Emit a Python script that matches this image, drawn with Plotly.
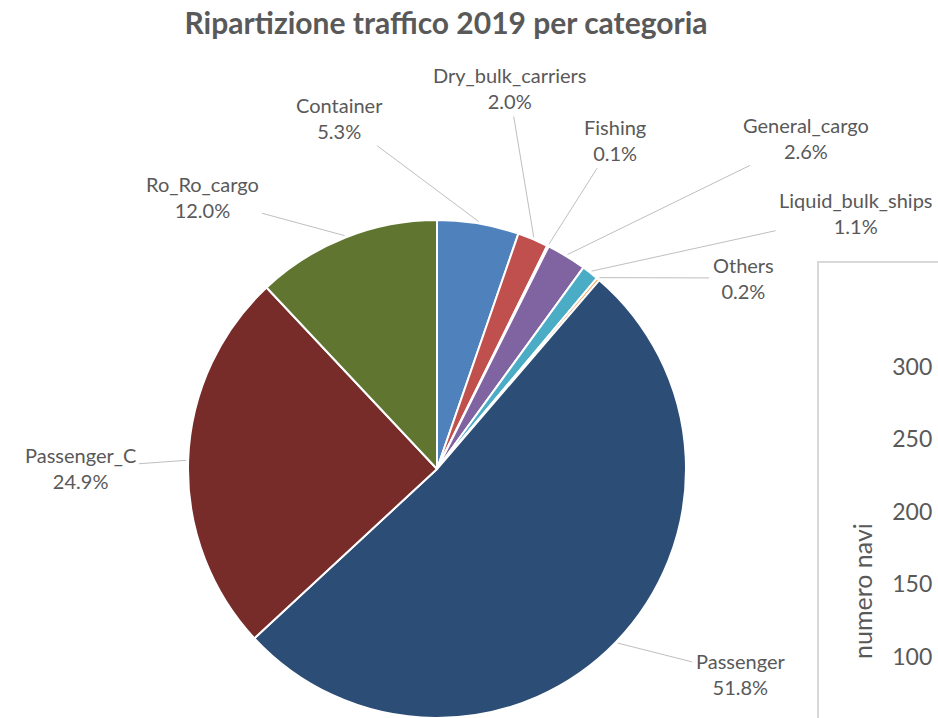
import math
import plotly.graph_objects as go

# ---- data ----
categories = ["Container", "Dry_bulk_carriers", "Fishing", "General_cargo",
              "Liquid_bulk_ships", "Others", "Passenger", "Passenger_C", "Ro_Ro_cargo"]
shares = [5.3, 2.0, 0.1, 2.6, 1.1, 0.2, 51.8, 24.9, 12.0]
colors = ["#4F81BD", "#C0504D", "#9BBB59", "#8064A2", "#4BACC6",
          "#F79646", "#2C4D75", "#772C2A", "#5F7530"]
right_ticks = [100, 150, 200, 250, 300]

# ---- layout helpers ----
W, H = 938, 718
CX, CY, R = 437, 469, 249
# label centre positions (pixels) for each category, layout only
label_pos = [(340, 118), (509, 88), (615, 140), (806, 138), (856, 213),
             (743, 278), (740, 674), (80, 468), (202, 197)]

fig = go.Figure()
fig.add_trace(go.Pie(
    labels=categories, values=shares, sort=False, direction="clockwise", rotation=0,
    marker=dict(colors=colors, line=dict(color="white", width=2)),
    textinfo="none", hoverinfo="label+percent", showlegend=False,
    domain=dict(x=[(CX - 250) / W, (CX + 250) / W], y=[0, 2 * R / H]),
))

total = sum(shares)
cum = 0.0
annotations = []
for name, v, (lx, ly) in zip(categories, shares, label_pos):
    mid = (cum + v / 2) / total * 2 * math.pi
    cum += v
    ex = CX + (R + 2) * math.sin(mid)
    ey = CY - (R + 2) * math.cos(mid)
    annotations.append(dict(
        x=ex / W, y=1 - ey / H, xref="paper", yref="paper",
        ax=lx - ex, ay=ly - ey, axref="pixel", ayref="pixel",
        text=f"{name}<br>{v:.1f}%", showarrow=True, arrowhead=0, arrowwidth=1,
        arrowcolor="#BFBFBF", standoff=0, startstandoff=2,
        font=dict(family="Lato", size=20, color="#595959"), align="center",
    ))

# axis title of the partially visible second chart
annotations.append(dict(
    x=862 / W, y=1 - 591 / H, xref="paper", yref="paper", showarrow=False,
    xanchor="center", yanchor="middle",
    text="numero navi", textangle=-90,
    font=dict(family="Lato", size=25, color="#595959"),
))

# partial second chart on the right (cropped in the reference)
fig.add_trace(go.Scatter(x=[0], y=[0], xaxis="x2", yaxis="y2", mode="markers",
                         marker=dict(opacity=0), showlegend=False, hoverinfo="skip"))

fig.add_shape(type="rect", xref="paper", yref="paper",
              x0=818 / W, x1=1.02, y0=-0.02, y1=1 - 262 / H,
              line=dict(color="#D9D9D9", width=2), fillcolor="rgba(0,0,0,0)", layer="below")

fig.update_layout(
    width=W, height=H,
    margin=dict(l=0, r=0, t=0, b=0),
    paper_bgcolor="white", plot_bgcolor="rgba(0,0,0,0)",
    title=dict(text="<b>Ripartizione traffico 2019 per categoria</b>",
               x=446 / W, y=1 - 23 / H, xanchor="center", yanchor="middle",
               font=dict(family="Lato", size=30, color="#595959")),
    annotations=annotations,
    xaxis2=dict(domain=[0.995, 1.0], visible=False, range=[0, 1]),
    yaxis2=dict(domain=[0, 1 - 320 / H], anchor="x2", range=[57.9, 332],
                tickvals=right_ticks, showgrid=False, zeroline=False, showline=False,
                ticks="", tickfont=dict(family="Lato", size=23, color="#595959")),
)

fig.write_html("out.html")
